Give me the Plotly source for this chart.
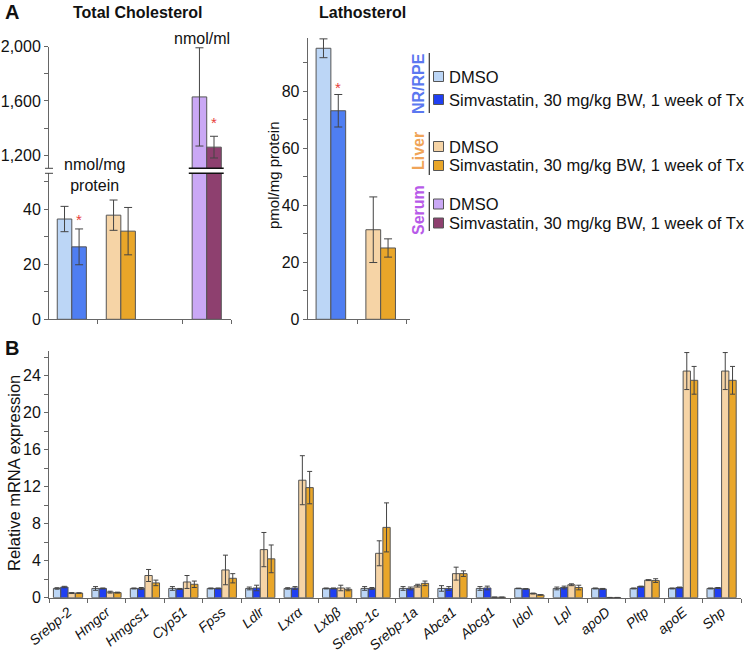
import plotly.graph_objects as go

W, H = 746, 652
def fx(p):
    return p / W
def fy(p):
    return 1 - p / H

FONT = "Liberation Sans, Arial, Helvetica, sans-serif"

# ---------------- Data ----------------
# Panel A - Total cholesterol
chol_groups = ["NR/RPE", "Liver", "Serum"]
chol_dmso = [36.4, 37.8, 1630]
chol_dmso_err = [4.6, 5.5, 362]
chol_simva = [26.3, 32.0, 1260]
chol_simva_err = [6.5, 8.6, 80]

# Panel A - Lathosterol
latho_groups = ["NR/RPE", "Liver"]
latho_dmso = [95.0, 31.4]
latho_dmso_err = [3.3, 11.5]
latho_simva = [73.1, 25.0]
latho_simva_err = [5.7, 3.2]

# Panel B - relative mRNA expression
genes = ["Srebp-2", "Hmgcr", "Hmgcs1", "Cyp51", "Fpss", "Ldlr", "Lxrα", "Lxbβ",
         "Srebp-1c", "Srebp-1a", "Abca1", "Abcg1", "Idol", "Lpl", "apoD", "Pltp",
         "apoE", "Shp"]
nr_dmso = [1.0, 1.0, 1.0, 1.0, 1.0, 1.0, 1.0, 1.0, 1.0, 1.0, 1.0, 1.0, 1.0, 1.0, 1.0, 1.0, 1.0, 1.0]
nr_dmso_err = [0.08, 0.2, 0.05, 0.2, 0.05, 0.15, 0.08, 0.05, 0.2, 0.2, 0.3, 0.2, 0.03, 0.15, 0.05, 0.05, 0.05, 0.05]
nr_simva = [1.15, 1.0, 1.0, 0.95, 1.0, 1.05, 1.05, 1.0, 1.0, 1.0, 1.0, 1.05, 0.95, 1.1, 0.95, 1.2, 1.1, 1.05]
nr_simva_err = [0.08, 0.05, 0.1, 0.05, 0.05, 0.3, 0.15, 0.05, 0.1, 0.15, 0.2, 0.2, 0.03, 0.15, 0.05, 0.05, 0.05, 0.05]
liver_dmso = [0.5, 0.6, 2.4, 1.7, 3.0, 5.2, 12.7, 1.05, 4.8, 1.3, 2.6, 0.05, 0.45, 1.4, 0.02, 1.9, 24.5, 24.5]
liver_dmso_err = [0.05, 0.1, 0.65, 0.7, 1.6, 1.85, 2.65, 0.3, 1.35, 0.15, 0.7, 0.02, 0.05, 0.1, 0.01, 0.05, 2.0, 2.0]
liver_simva = [0.5, 0.55, 1.6, 1.45, 2.1, 4.2, 11.9, 0.9, 7.6, 1.55, 2.6, 0.05, 0.3, 1.1, 0.02, 1.85, 23.5, 23.5]
liver_simva_err = [0.03, 0.05, 0.3, 0.35, 0.5, 1.5, 1.75, 0.15, 2.65, 0.25, 0.3, 0.02, 0.03, 0.25, 0.01, 0.2, 1.5, 1.5]

legend_groups = ["NR/RPE", "Liver", "Serum"]
legend_items = ["DMSO", "Simvastatin, 30 mg/kg BW, 1 week of Tx"]

# ---------------- Styles ----------------
C_NR_D = "#bcd6f6"
C_NR_S_A = "#4f7ef2"
C_NR_S = "#1f3ff2"
C_LV_D = "#f6d4a6"
C_LV_S = "#e9a629"
C_SR_D = "#caa8f5"
C_SR_S = "#8e406f"
OUTLINE = "#555555"
ERR = "#444444"
GRP_COLORS = ["#5b78f0", "#f0a458", "#b75ae8"]

chol_pos = [0.47, 1.48, 3.25]
latho_pos = [0.47, 1.48]
BW = 0.3

fig = go.Figure()

def add_bar(x, y, err, colors, xa, ya, offset, width, cap=4, lw=1):
    fig.add_trace(go.Bar(
        x=x, y=y, xaxis=xa, yaxis=ya, offset=offset, width=width,
        marker=dict(color=colors, line=dict(color=OUTLINE, width=lw)),
        error_y=dict(type="data", array=err, visible=True, color=ERR,
                     thickness=1, width=cap),
        showlegend=False, hoverinfo="y"))

# Total cholesterol - lower (all groups, serum clipped) and upper (serum)
add_bar(chol_pos, chol_dmso, chol_dmso_err, [C_NR_D, C_LV_D, C_SR_D], "x", "y", -BW, BW)
add_bar(chol_pos, chol_simva, chol_simva_err, [C_NR_S_A, C_LV_S, C_SR_S], "x", "y", 0, BW)
add_bar(chol_pos[2:], chol_dmso[2:], chol_dmso_err[2:], [C_SR_D], "x", "y2", -BW, BW)
add_bar(chol_pos[2:], chol_simva[2:], chol_simva_err[2:], [C_SR_S], "x", "y2", 0, BW)

# Lathosterol
add_bar(latho_pos, latho_dmso, latho_dmso_err, [C_NR_D, C_LV_D], "x3", "y3", -BW, BW)
add_bar(latho_pos, latho_simva, latho_simva_err, [C_NR_S_A, C_LV_S], "x3", "y3", 0, BW)

# Panel B
bw = 0.19
off0 = -0.385
for i, (vals, errs, col) in enumerate([
        (nr_dmso, nr_dmso_err, C_NR_D), (nr_simva, nr_simva_err, C_NR_S),
        (liver_dmso, liver_dmso_err, C_LV_D), (liver_simva, liver_simva_err, C_LV_S)]):
    add_bar(genes, vals, errs, col, "x4", "y4", off0 + i * bw, bw, cap=2.5)

tickfont = dict(family=FONT, size=16, color="#111")
axline = dict(showline=True, linecolor="#666", linewidth=1, ticks="outside",
              ticklen=4, tickcolor="#666", showgrid=False, zeroline=False,
              automargin=False)

fig.update_layout(
    width=W, height=H, margin=dict(l=0, r=0, t=0, b=0, autoexpand=False),
    paper_bgcolor="white", plot_bgcolor="white", barmode="overlay",
    font=dict(family=FONT, color="#111"),
    xaxis=dict(domain=[fx(49), fx(231)], range=[0, 3.75], anchor="y",
               tickvals=[1, 2.75, 3.75], showticklabels=False, **axline),
    yaxis=dict(domain=[fy(319.3), fy(173.3)], range=[0, 53], anchor="x",
               tickvals=[0, 20, 40], tickfont=tickfont,
               minor=dict(tickvals=[10, 30, 50], ticks="outside", ticklen=4, tickcolor="#666"),
               **axline),
    yaxis2=dict(domain=[fy(168.3), fy(46.7)], range=[1104, 2000], anchor="x",
                tickvals=[1200, 1600, 2000], tickformat=",", tickfont=tickfont,
                minor=dict(tickvals=[1400, 1800], ticks="outside", ticklen=4, tickcolor="#666"),
                **axline),
    xaxis3=dict(domain=[fx(307.7), fx(410)], range=[0, 2.075], anchor="y3",
                tickvals=[1, 2], showticklabels=False, **axline),
    yaxis3=dict(domain=[fy(319.3), fy(38)], range=[0, 98.6], anchor="x3",
                tickvals=[0, 20, 40, 60, 80], tickfont=tickfont,
                minor=dict(tickvals=[10, 30, 50, 70, 90], ticks="outside", ticklen=4, tickcolor="#666"),
                **axline),
    xaxis4=dict(domain=[fx(49), fx(741)], anchor="y4", type="category",
                tickson="boundaries", tickangle=-40,
                tickfont=dict(family=FONT, size=14, style="italic", color="#111"),
                **axline),
    yaxis4=dict(domain=[fy(597.7), fy(350.7)], range=[0, 26.7], anchor="x4",
                tickvals=[0, 4, 8, 12, 16, 20, 24], tickfont=tickfont,
                minor=dict(tickvals=[2, 6, 10, 14, 18, 22, 26], ticks="outside", ticklen=4, tickcolor="#666"),
                **axline),
)

ann = []
def text(x, y, t, size=16, bold=False, color="#111", angle=0, xanchor="center", yanchor="middle", xref="paper", yref="paper", yshift=0):
    if bold:
        t = "<b>" + t + "</b>"
    ann.append(dict(x=x, y=y, xref=xref, yref=yref, text=t, showarrow=False,
                    font=dict(family=FONT, size=size, color=color), textangle=angle,
                    xanchor=xanchor, yanchor=yanchor, yshift=yshift))

text(fx(3), fy(12), "A", size=20, bold=True, xanchor="left")
text(fx(3), fy(348), "B", size=20, bold=True, xanchor="left")
text(fx(138), fy(13), "Total Cholesterol", size=16, bold=True)
text(fx(362.5), fy(12.5), "Lathosterol", size=16, bold=True)
text(fx(94), fy(175), "nmol/mg<br>protein", size=16)
text(fx(202), fy(39), "nmol/ml", size=16)
# axis titles
text(fx(273), fy(175), "pmol/mg protein", size=15, angle=-90)
text(fx(14), fy(473), "Relative mRNA expression", size=16.5, angle=-90)

# significance asterisks
RED = "#e8403a"
text(chol_pos[0] + BW / 2, chol_simva[0] + chol_simva_err[0], "*", size=15, color=RED,
     xref="x", yref="y", yanchor="bottom", yshift=-1)
text(chol_pos[2] + BW / 2, chol_simva[2] + chol_simva_err[2], "*", size=15, color=RED,
     xref="x", yref="y2", yanchor="bottom", yshift=3)
text(latho_pos[0] + BW / 2, latho_simva[0] + latho_simva_err[0], "*", size=15, color=RED,
     xref="x3", yref="y3", yanchor="bottom", yshift=-4)

shapes = []
# axis break marks
for yr, yy in [("y domain", 1), ("y2 domain", 0)]:
    shapes.append(dict(type="line", xref="x domain", yref=yr, x0=-0.022, x1=0.022,
                       y0=yy, y1=yy, line=dict(color="#444", width=1)))
    shapes.append(dict(type="line", xref="x", yref=yr, x0=chol_pos[2] - 0.37, x1=chol_pos[2] + 0.35,
                       y0=yy, y1=yy, line=dict(color="#111", width=1.5)))

# legend
leg_rows = [(76.5, 99.5), (146.5, 165.5), (204, 223)]
leg_label_y = [83.5, 151.5, 210.5]
leg_line = [(53, 113), (132, 175), (192, 231)]
leg_fill = [(C_NR_D, C_NR_S), (C_LV_D, C_LV_S), (C_SR_D, C_SR_S)]
for g in range(3):
    text(fx(418.5), fy(leg_label_y[g]), legend_groups[g], size=16, bold=True,
         color=GRP_COLORS[g], angle=-90)
    shapes.append(dict(type="line", xref="paper", yref="paper", x0=fx(429.3), x1=fx(429.3),
                       y0=fy(leg_line[g][0]), y1=fy(leg_line[g][1]), line=dict(color="#333", width=1.2)))
    for k in range(2):
        yc = leg_rows[g][k]
        shapes.append(dict(type="rect", xref="paper", yref="paper", x0=fx(433.5), x1=fx(443.5),
                           y0=fy(yc - 5), y1=fy(yc + 5), fillcolor=leg_fill[g][k],
                           line=dict(color="#555", width=1)))
        text(fx(446.5), fy(yc), legend_items[k], size=16.5, xanchor="left")

fig.update_layout(annotations=ann, shapes=shapes)
fig.write_html("out.html", config={"displayModeBar": False},
               post_script="document.body.style.margin='0';document.body.style.overflow='hidden';")
